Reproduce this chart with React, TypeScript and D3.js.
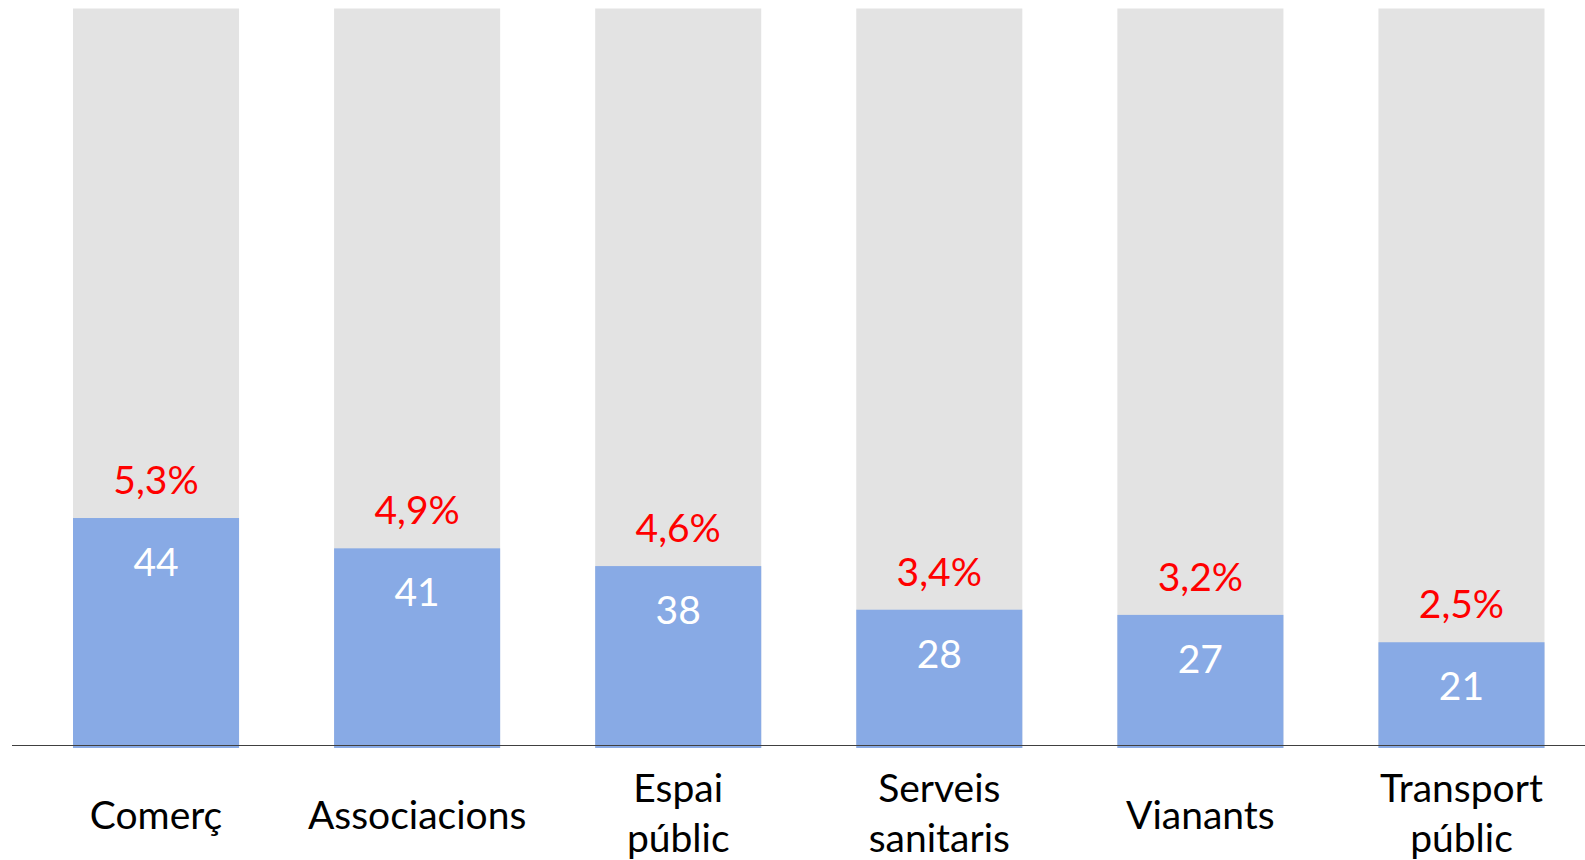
import React, { useRef, useEffect } from 'react';
import * as d3 from 'd3';

const categories: string[][] = [
  ['Comerç'],
  ['Associacions'],
  ['Espai', 'públic'],
  ['Serveis', 'sanitaris'],
  ['Vianants'],
  ['Transport', 'públic'],
];
// blue bar heights, as a share of the full grey column
const barValues = [31.1, 27.0, 24.6, 18.7, 18.0, 14.3];
const countLabels = ['44', '41', '38', '28', '27', '21'];
const pctLabels = ['5,3%', '4,9%', '4,6%', '3,4%', '3,2%', '2,5%'];
const totalValue = 100;

const WIDTH = 1585;
const HEIGHT = 860;
const FONT = 'Lato, "Open Sans", sans-serif';

const App = () => {
  const ref = useRef<SVGSVGElement>(null);

  useEffect(() => {
    const svg = d3.select(ref.current);
    svg.selectAll('*').remove();

    const bottom = 748;
    const top = 8.5;

    const x = d3.scaleBand<number>()
      .domain(d3.range(categories.length))
      .range([73, 1544.5])
      .paddingInner(0.364)
      .paddingOuter(0);

    const y = d3.scaleLinear()
      .domain([0, totalValue])
      .range([bottom, top]);

    const g = svg.append('g');

    // grey background columns
    g.selectAll('rect.total')
      .data(barValues)
      .enter().append('rect')
      .attr('class', 'total')
      .attr('x', (_, i) => x(i)!)
      .attr('y', y(totalValue))
      .attr('width', x.bandwidth())
      .attr('height', y(0) - y(totalValue))
      .attr('fill', '#e3e3e3');

    // blue bars
    g.selectAll('rect.value')
      .data(barValues)
      .enter().append('rect')
      .attr('class', 'value')
      .attr('x', (_, i) => x(i)!)
      .attr('y', d => y(d))
      .attr('width', x.bandwidth())
      .attr('height', d => y(0) - y(d))
      .attr('fill', '#88aae5');

    // baseline
    svg.append('line')
      .attr('x1', 12)
      .attr('x2', WIDTH)
      .attr('y1', 745.5)
      .attr('y2', 745.5)
      .attr('stroke', '#404040')
      .attr('stroke-width', 1.2);

    // counts inside bars
    g.selectAll('text.count')
      .data(barValues)
      .enter().append('text')
      .attr('class', 'count')
      .attr('x', (_, i) => x(i)! + x.bandwidth() / 2)
      .attr('y', d => y(d) + 58)
      .attr('text-anchor', 'middle')
      .attr('font-family', FONT)
      .attr('font-size', 39)
      .attr('fill', '#ffffff')
      .text((_, i) => countLabels[i]);

    // percentages above bars
    g.selectAll('text.pct')
      .data(barValues)
      .enter().append('text')
      .attr('class', 'pct')
      .attr('x', (_, i) => x(i)! + x.bandwidth() / 2)
      .attr('y', d => y(d) - 24)
      .attr('text-anchor', 'middle')
      .attr('font-family', FONT)
      .attr('font-size', 39)
      .attr('fill', '#ff0000')
      .text((_, i) => pctLabels[i]);

    // category labels
    const labels = g.selectAll('text.cat')
      .data(categories)
      .enter().append('text')
      .attr('class', 'cat')
      .attr('text-anchor', 'middle')
      .attr('font-family', FONT)
      .attr('font-size', 39)
      .attr('fill', '#000000');

    labels.each(function (lines, i) {
      const cx = x(i)! + x.bandwidth() / 2;
      const startY = lines.length > 1 ? 802 : 829;
      lines.forEach((line, j) => {
        d3.select(this).append('tspan')
          .attr('x', cx)
          .attr('y', startY + j * 50)
          .text(line);
      });
    });
  }, []);

  return (
    <svg
      ref={ref}
      width={WIDTH}
      height={HEIGHT}
      style={{ position: 'absolute', left: 0, top: 0, display: 'block', background: '#fff' }}
    />
  );
};

export default App;
